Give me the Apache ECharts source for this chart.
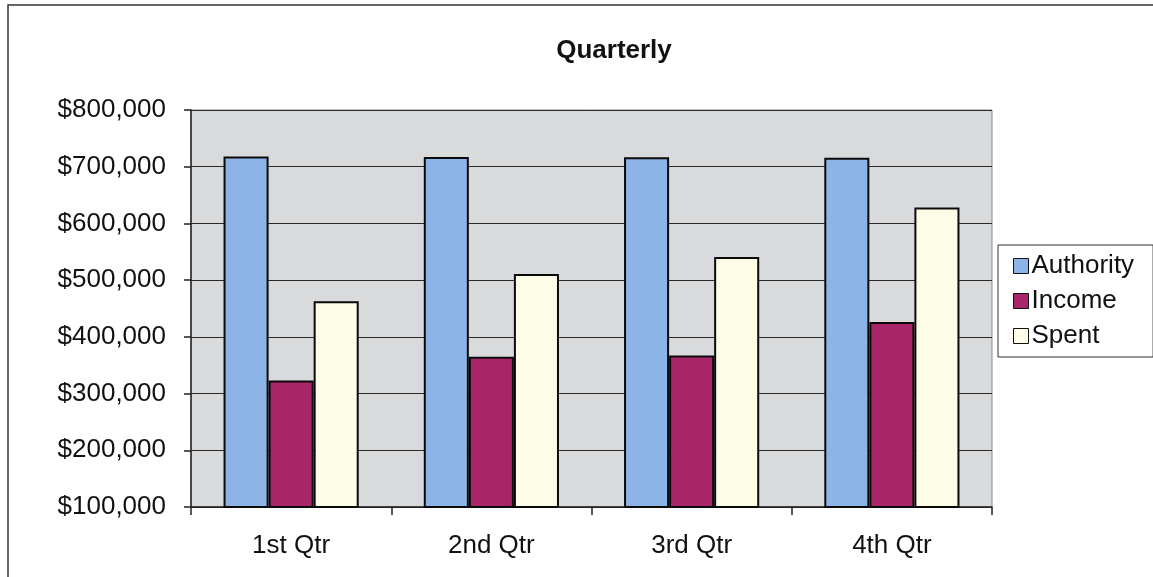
<!DOCTYPE html>
<html>
<head>
<meta charset="utf-8">
<script src="https://cdn.jsdelivr.net/npm/echarts@6/dist/echarts.min.js"></script>
<style>
  html, body { margin: 0; padding: 0; background: #fff; }
  #chart { width: 1153px; height: 577px; }
</style>
</head>
<body>
<div id="chart"></div>
<script>
// Quarterly budget figures
const quarters = ['1st Qtr', '2nd Qtr', '3rd Qtr', '4th Qtr'];
const authority = [718000, 717000, 716500, 716000];
const income = [323000, 365000, 367000, 426000];
const spent = [463000, 511000, 541000, 628000];

const chart = echarts.init(document.getElementById('chart'));

const fmtMoney = v => '$' + v.toLocaleString('en-US');
const font = 'Liberation Sans, Arial, sans-serif';

function barSeries(name, data, color) {
  return {
    name: name,
    type: 'bar',
    data: data,
    barGap: '0%',
    barCategoryGap: '32.5%',
    itemStyle: { color: color, borderColor: '#0a0a0a', borderWidth: 2 },
    emphasis: { disabled: true }
  };
}

chart.setOption({
  animation: false,
  backgroundColor: '#fff',
  textStyle: { fontFamily: font },
  title: {
    text: 'Quarterly',
    left: 609,
    top: 33,
    textAlign: 'center',
    textStyle: { fontSize: 26, fontWeight: 'bold', color: '#111', fontFamily: font }
  },
  graphic: [
    {
      type: 'rect',
      shape: { x: 8, y: 5, width: 1170, height: 600 },
      style: { fill: 'none', stroke: '#333', lineWidth: 1.5 },
      z: -10
    }
  ],
  legend: {
    orient: 'vertical',
    left: 998,
    top: 245,
    padding: [8, 19, 8, 15],
    itemGap: 9,
    itemWidth: 15,
    itemHeight: 15,
    icon: 'rect',
    backgroundColor: '#fff',
    borderColor: '#333',
    borderWidth: 1,
    itemStyle: { borderColor: '#111', borderWidth: 1 },
    textStyle: { fontSize: 26, color: '#111', fontFamily: font, lineHeight: 26, padding: [0, 0, 0, -2] },
    data: ['Authority', 'Income', 'Spent']
  },
  grid: {
    left: 191,
    right: 161,
    top: 110,
    bottom: 70,
    show: true,
    backgroundColor: '#d9dadc',
    borderColor: '#8a8a8a',
    borderWidth: 1
  },
  xAxis: {
    type: 'category',
    data: quarters,
    axisLine: { lineStyle: { color: '#222', width: 1.5 } },
    axisTick: { show: true, length: 8, lineStyle: { color: '#222', width: 1.5 } },
    axisLabel: { fontSize: 26, color: '#111', margin: 26, fontFamily: font }
  },
  yAxis: {
    type: 'value',
    min: 100000,
    max: 800000,
    interval: 100000,
    axisLine: { show: true, lineStyle: { color: '#222', width: 1.5 } },
    axisTick: { show: true, length: 7, lineStyle: { color: '#222', width: 1.5 } },
    axisLabel: { fontSize: 26, color: '#111', margin: 25, fontFamily: font, formatter: fmtMoney },
    splitLine: { show: true, lineStyle: { color: '#2a2a2a', width: 1.2 } }
  },
  series: [
    barSeries('Authority', authority, '#8db4e6'),
    barSeries('Income', income, '#a8256a'),
    barSeries('Spent', spent, '#fdfde8')
  ]
});
</script>
</body>
</html>
